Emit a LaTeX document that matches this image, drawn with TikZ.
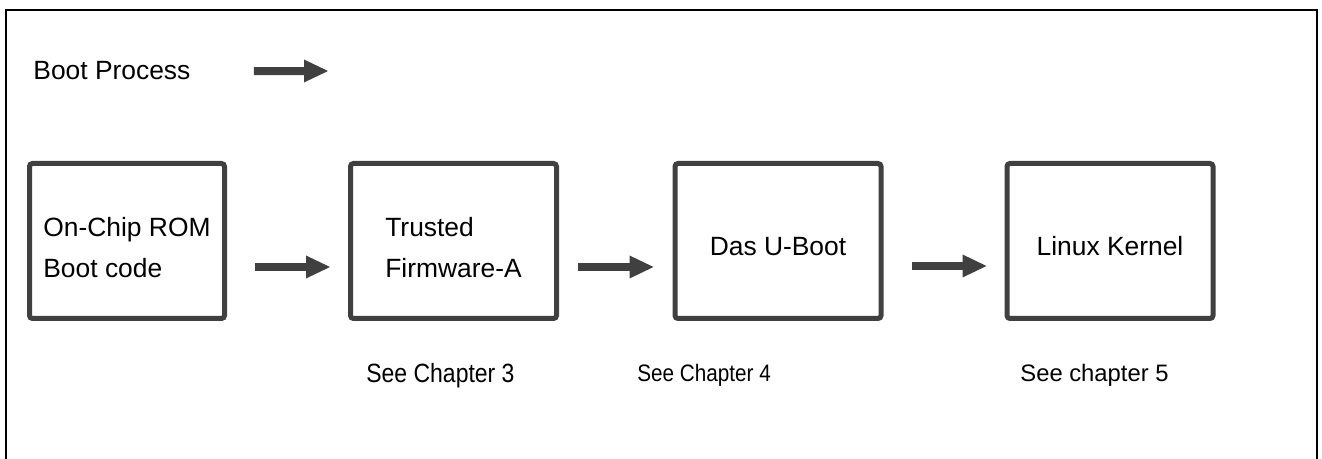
\documentclass[tikz,border=0pt]{standalone}
\usepackage{fontspec}
\setmainfont{Liberation Sans}
\newfontfamily\narrowsans[FakeStretch=0.87]{Liberation Sans}
\usetikzlibrary{arrows.meta}
\definecolor{stagegray}{HTML}{404040}

\tikzset{
	stage/.style={draw=stagegray, line width=2.5pt, rounded corners=1.5pt, minimum width=103pt, minimum height=77.5pt, align=left, text height=15pt, text depth=0pt, font=\fontsize{13.2}{20.5}\selectfont},
	twoline/.style={text height=37pt},
	flow/.style={draw=stagegray, line width=4pt, -{Triangle[length=12pt,width=11.5pt,line width=0pt]}},
	caption/.style={inner sep=0pt, anchor=base west}
}

\begin{document}
\begin{tikzpicture}[x=0.5pt, y=-0.5pt]
		\useasboundingbox (0,0) rectangle (1322,459);
		\draw [line width=1pt] (6,459) |- (1317,10) -- (1317,459);

		\draw (33,80) node [caption, font=\fontsize{13.2}{16}\selectfont] (legend) {Boot Process};
		\coordinate (legendtip) at (328,71);

		\draw (127,241) node [stage, twoline, minimum width=97.5pt] (rom) {On-Chip ROM\\Boot code};
		\draw (453.5,241) node [stage, twoline] (tfa) {Trusted\\Firmware-A};
		\draw (778,241) node [stage] (uboot) {Das U-Boot};
		\draw (1110,241) node [stage] (kernel) {Linux Kernel};

		\draw (366,383) node [caption, font=\narrowsans\fontsize{13.2}{16}\selectfont] (ch3) {See Chapter 3};
		\draw (637,382) node [caption, font=\narrowsans\fontsize{11.9}{14}\selectfont] (ch4) {See Chapter 4};
		\draw (1020,382) node [caption, font=\fontsize{11.9}{14}\selectfont] (ch5) {See chapter 5};

		\draw [flow, shorten <=31.5pt] (legend) -- (legendtip);
		\draw
			([yshift=-13pt]rom.east) edge [flow, shorten <=14pt, shorten >=9pt] ([yshift=-13pt]tfa.west)
			([yshift=-13pt]tfa.east) edge [flow, shorten <=9.5pt, shorten >=9.5pt] ([yshift=-13pt]uboot.west)
			([yshift=-12.5pt]uboot.east) edge [flow, shorten <=14pt, shorten >=9pt] ([yshift=-12.5pt]kernel.west)
		;
	\end{tikzpicture}
\end{document}
